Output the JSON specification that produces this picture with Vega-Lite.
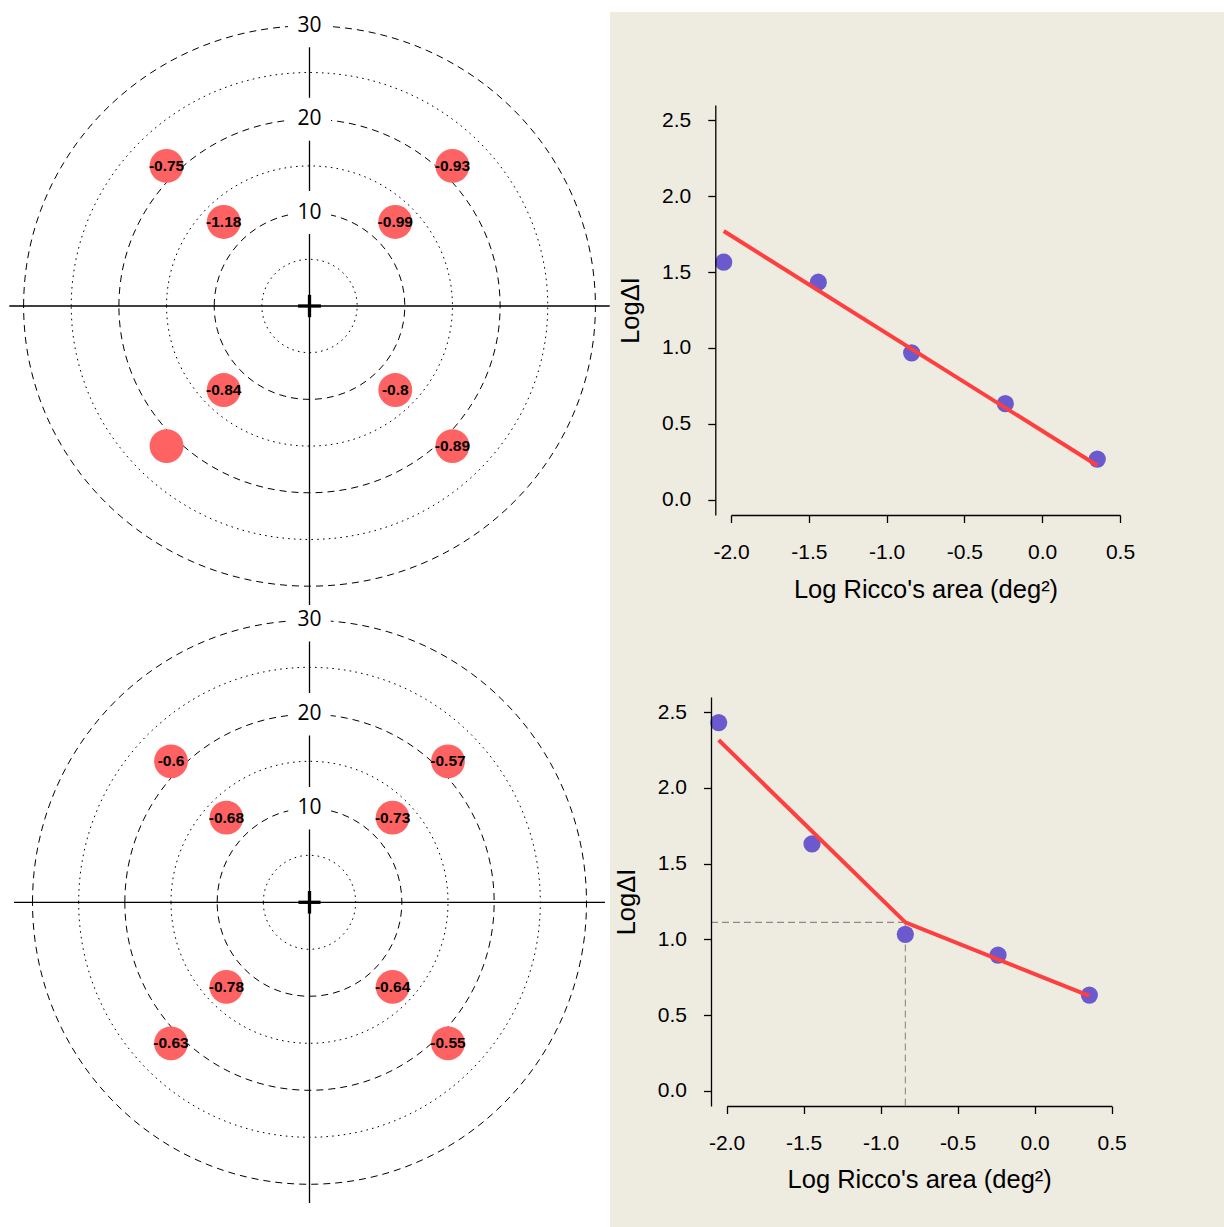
{
  "$schema": "https://vega.github.io/schema/vega-lite/v6.json",
  "width": 1224,
  "height": 1227,
  "autosize": {"type": "none"},
  "padding": 0,
  "background": "white",
  "config": {"view": {"stroke": null}},
  "datasets": {
    "panel": [{"x": 0, "x2": 1, "y": 0, "y2": 1}],
    "rings": [
      {"x": 0, "y": 0, "r": 5, "style": "dotted"},
      {"x": 0, "y": 0, "r": 10, "style": "dashed"},
      {"x": 0, "y": 0, "r": 15, "style": "dotted"},
      {"x": 0, "y": 0, "r": 20, "style": "dashed"},
      {"x": 0, "y": 0, "r": 25, "style": "dotted"},
      {"x": 0, "y": 0, "r": 30, "style": "dashed"}
    ],
    "axesTop": [
      {"x": -31.5, "x2": 31.5, "y": 0, "y2": 0},
      {"x": 0, "x2": 0, "y": -32, "y2": 32}
    ],
    "axesBottom": [
      {"x": -32, "x2": 32, "y": 0, "y2": 0},
      {"x": 0, "x2": 0, "y": -32, "y2": 32}
    ],
    "cross": [
      {"x": -1.2, "x2": 1.2, "y": 0, "y2": 0},
      {"x": 0, "x2": 0, "y": -1.2, "y2": 1.2}
    ],
    "ringLabels": [
      {"x": 0, "y": 10, "label": "10"},
      {"x": 0, "y": 20, "label": "20"},
      {"x": 0, "y": 30, "label": "30"}
    ],
    "spotsTop": [
      {"x": -15, "y": 15, "label": "-0.75"},
      {"x": 15, "y": 15, "label": "-0.93"},
      {"x": -9, "y": 9, "label": "-1.18"},
      {"x": 9, "y": 9, "label": "-0.99"},
      {"x": -9, "y": -9, "label": "-0.84"},
      {"x": 9, "y": -9, "label": "-0.8"},
      {"x": -15, "y": -15, "label": ""},
      {"x": 15, "y": -15, "label": "-0.89"}
    ],
    "spotsBottom": [
      {"x": -15, "y": 15, "label": "-0.6"},
      {"x": 15, "y": 15, "label": "-0.57"},
      {"x": -9, "y": 9, "label": "-0.68"},
      {"x": 9, "y": 9, "label": "-0.73"},
      {"x": -9, "y": -9, "label": "-0.78"},
      {"x": 9, "y": -9, "label": "-0.64"},
      {"x": -15, "y": -15, "label": "-0.63"},
      {"x": 15, "y": -15, "label": "-0.55"}
    ],
    "ptsTop": [
      {"x": -2.047, "y": 1.565},
      {"x": -1.439, "y": 1.433},
      {"x": -0.839, "y": 0.968},
      {"x": -0.237, "y": 0.633},
      {"x": 0.354, "y": 0.268}
    ],
    "fitTop": [
      {"x": -2.047, "y": 1.770},
      {"x": 0.354, "y": 0.226}
    ],
    "ptsBottom": [
      {"x": -2.052, "y": 2.431},
      {"x": -1.446, "y": 1.630},
      {"x": -0.840, "y": 1.033},
      {"x": -0.238, "y": 0.896},
      {"x": 0.355, "y": 0.632}
    ],
    "fitBottom": [
      {"x": -2.052, "y": 2.316},
      {"x": -0.840, "y": 1.112},
      {"x": 0.355, "y": 0.627}
    ],
    "guide": [
      {"x": -2.102, "x2": -0.840, "y": 1.112, "y2": 1.112},
      {"x": -0.840, "x2": -0.840, "y": 1.112, "y2": -0.1}
    ]
  },
  "layer": [
    {
      "data": {"name": "panel"},
      "mark": {"type": "rect", "color": "#EEEBE0"},
      "encoding": {
        "x": {"field": "x", "type": "quantitative", "scale": {"domain": [0, 1], "range": [610, 1224], "nice": false, "zero": false}, "axis": null},
        "x2": {"field": "x2"},
        "y": {"field": "y", "type": "quantitative", "scale": {"domain": [0, 1], "range": [12, 1227], "nice": false, "zero": false}, "axis": null},
        "y2": {"field": "y2"}
      }
    },
    {
      "encoding": {
        "x": {"field": "x", "type": "quantitative", "scale": {"domain": [-30, 30], "range": [32.5, 586.5], "nice": false, "zero": false}, "axis": null},
        "y": {"field": "y", "type": "quantitative", "scale": {"domain": [-30, 30], "range": [1184.3, 620.3], "nice": false, "zero": false}, "axis": null}
      },
      "layer": [
        {
          "data": {"name": "rings"},
          "mark": {"type": "point", "filled": false, "color": "black", "strokeWidth": 1, "opacity": 1,
                   "shape": "M-1,0C-1,-0.5622,-0.5523,-1.018,0,-1.018C0.5523,-1.018,1,-0.5622,1,0C1,0.5622,0.5523,1.018,0,1.018C-0.5523,1.018,-1,0.5622,-1,0Z"},
          "encoding": {
            "size": {"field": "r", "type": "quantitative", "scale": {"type": "pow", "exponent": 2, "domain": [0, 30], "range": [0, 306894]}, "legend": null},
            "strokeDash": {"field": "style", "type": "nominal", "scale": {"domain": ["dashed", "dotted"], "range": [[7, 5], [1.6, 4.2]]}, "legend": null}
          }
        },
        {
          "data": {"name": "axesBottom"},
          "mark": {"type": "rule", "color": "black", "strokeWidth": 1.3},
          "encoding": {"x2": {"field": "x2"}, "y2": {"field": "y2"}}
        },
        {
          "data": {"name": "ringLabels"},
          "mark": {"type": "point", "shape": "square", "filled": true, "color": "white", "size": 1800, "opacity": 1}
        },
        {
          "data": {"name": "ringLabels"},
          "mark": {"type": "text", "font": "Open Sans", "fontSize": 21, "color": "black", "baseline": "middle", "align": "center"},
          "encoding": {"text": {"field": "label"}}
        },
        {
          "data": {"name": "spotsBottom"},
          "mark": {"type": "point", "shape": "circle", "filled": true, "color": "#FF6262", "size": 1140, "opacity": 1}
        },
        {
          "data": {"name": "spotsBottom"},
          "mark": {"type": "text", "font": "Liberation Sans", "fontWeight": "bold", "fontSize": 15.5, "color": "black", "baseline": "middle", "align": "center"},
          "encoding": {"text": {"field": "label"}}
        },
        {
          "data": {"name": "cross"},
          "mark": {"type": "rule", "color": "black", "strokeWidth": 3.3},
          "encoding": {"x2": {"field": "x2"}, "y2": {"field": "y2"}}
        }
      ]
    },
    {
      "encoding": {
        "x": {"field": "x", "type": "quantitative", "scale": {"domain": [-30, 30], "range": [23.6, 595.4], "nice": false, "zero": false}, "axis": null},
        "y": {"field": "y", "type": "quantitative", "scale": {"domain": [-30, 30], "range": [586.2, 25.8], "nice": false, "zero": false}, "axis": null}
      },
      "layer": [
        {
          "data": {"name": "rings"},
          "mark": {"type": "point", "filled": false, "color": "black", "strokeWidth": 1, "opacity": 1,
                   "shape": "M-1,0C-1,-0.5413,-0.5523,-0.98,0,-0.98C0.5523,-0.98,1,-0.5413,1,0C1,0.5413,0.5523,0.98,0,0.98C-0.5523,0.98,-1,0.5413,-1,0Z"},
          "encoding": {
            "size": {"field": "r", "type": "quantitative", "scale": {"type": "pow", "exponent": 2, "domain": [0, 30], "range": [0, 326955]}, "legend": null},
            "strokeDash": {"field": "style", "type": "nominal", "scale": {"domain": ["dashed", "dotted"], "range": [[7, 5], [1.6, 4.2]]}, "legend": null}
          }
        },
        {
          "data": {"name": "axesTop"},
          "mark": {"type": "rule", "color": "black", "strokeWidth": 1.3},
          "encoding": {"x2": {"field": "x2"}, "y2": {"field": "y2"}}
        },
        {
          "data": {"name": "ringLabels"},
          "mark": {"type": "point", "shape": "square", "filled": true, "color": "white", "size": 1850, "opacity": 1}
        },
        {
          "data": {"name": "ringLabels"},
          "mark": {"type": "text", "font": "Open Sans", "fontSize": 21, "color": "black", "baseline": "middle", "align": "center"},
          "encoding": {"text": {"field": "label"}}
        },
        {
          "data": {"name": "spotsTop"},
          "mark": {"type": "point", "shape": "circle", "filled": true, "color": "#FF6262", "size": 1150, "opacity": 1}
        },
        {
          "data": {"name": "spotsTop"},
          "mark": {"type": "text", "font": "Liberation Sans", "fontWeight": "bold", "fontSize": 15.5, "color": "black", "baseline": "middle", "align": "center"},
          "encoding": {"text": {"field": "label"}}
        },
        {
          "data": {"name": "cross"},
          "mark": {"type": "rule", "color": "black", "strokeWidth": 3.3},
          "encoding": {"x2": {"field": "x2"}, "y2": {"field": "y2"}}
        }
      ]
    },
    {
      "encoding": {
        "x": {"field": "x", "type": "quantitative",
              "scale": {"domain": [-2, 0.5], "range": [731, 1120], "nice": false, "zero": false},
              "axis": {"orient": "bottom", "offset": -712, "values": [-2, -1.5, -1, -0.5, 0, 0.5],
                       "labelExpr": "datum.value < 0 ? '-' + format(-datum.value, '.1f') : format(datum.value, '.1f')",
                       "grid": false, "domainColor": "black", "domainWidth": 1.3, "tickColor": "black", "tickWidth": 1.3, "tickSize": 7.5,
                       "labelFont": "Liberation Sans", "labelFontSize": 21, "labelColor": "black", "labelPadding": 19, "labelFlush": false, "labelOverlap": false,
                       "title": "Log Ricco's area (deg²)", "titleFont": "Liberation Sans", "titleFontSize": 25.5, "titleFontWeight": "normal", "titleColor": "black",
                       "titleY": 82, "titleBaseline": "alphabetic", "zindex": 1}},
        "y": {"field": "y", "type": "quantitative",
              "scale": {"domain": [-0.1, 2.6], "range": [515, 105], "nice": false, "zero": false},
              "axis": {"orient": "left", "offset": -715.3, "values": [0, 0.5, 1, 1.5, 2, 2.5], "format": ".1f",
                       "grid": false, "domainColor": "black", "domainWidth": 1.3, "tickColor": "black", "tickWidth": 1.3, "tickSize": 7.5,
                       "labelFont": "Liberation Sans", "labelFontSize": 21, "labelColor": "black", "labelPadding": 17, "labelOverlap": false, "labelFlush": false,
                       "title": "LogΔI", "titleFont": "Liberation Sans", "titleFontSize": 25.5, "titleFontWeight": "normal", "titleColor": "black",
                       "titleX": -77, "titleBaseline": "alphabetic", "zindex": 1}}
      },
      "layer": [
        {
          "data": {"name": "ptsTop"},
          "mark": {"type": "circle", "color": "#6A5ACD", "size": 295, "opacity": 1}
        },
        {
          "data": {"name": "fitTop"},
          "mark": {"type": "line", "color": "#FF3F3F", "strokeWidth": 4}
        }
      ]
    },
    {
      "encoding": {
        "x": {"field": "x", "type": "quantitative",
              "scale": {"domain": [-2, 0.5], "range": [726.7, 1111.7], "nice": false, "zero": false},
              "axis": {"orient": "bottom", "offset": -121, "values": [-2, -1.5, -1, -0.5, 0, 0.5],
                       "labelExpr": "datum.value < 0 ? '-' + format(-datum.value, '.1f') : format(datum.value, '.1f')",
                       "grid": false, "domainColor": "black", "domainWidth": 1.3, "tickColor": "black", "tickWidth": 1.3, "tickSize": 7.5,
                       "labelFont": "Liberation Sans", "labelFontSize": 21, "labelColor": "black", "labelPadding": 19, "labelFlush": false, "labelOverlap": false,
                       "title": "Log Ricco's area (deg²)", "titleFont": "Liberation Sans", "titleFontSize": 25.5, "titleFontWeight": "normal", "titleColor": "black",
                       "titleY": 81, "titleBaseline": "alphabetic", "zindex": 1}},
        "y": {"field": "y", "type": "quantitative",
              "scale": {"domain": [-0.1, 2.6], "range": [1106, 697], "nice": false, "zero": false},
              "axis": {"orient": "left", "offset": -711, "values": [0, 0.5, 1, 1.5, 2, 2.5], "format": ".1f",
                       "grid": false, "domainColor": "black", "domainWidth": 1.3, "tickColor": "black", "tickWidth": 1.3, "tickSize": 7.5,
                       "labelFont": "Liberation Sans", "labelFontSize": 21, "labelColor": "black", "labelPadding": 17, "labelOverlap": false, "labelFlush": false,
                       "title": "LogΔI", "titleFont": "Liberation Sans", "titleFontSize": 25.5, "titleFontWeight": "normal", "titleColor": "black",
                       "titleX": -77, "titleBaseline": "alphabetic", "zindex": 1}}
      },
      "layer": [
        {
          "data": {"name": "guide"},
          "mark": {"type": "rule", "color": "#8A8A8A", "strokeWidth": 1.1, "strokeDash": [7, 4]},
          "encoding": {"x2": {"field": "x2"}, "y2": {"field": "y2"}}
        },
        {
          "data": {"name": "ptsBottom"},
          "mark": {"type": "circle", "color": "#6A5ACD", "size": 295, "opacity": 1}
        },
        {
          "data": {"name": "fitBottom"},
          "mark": {"type": "line", "color": "#FF3F3F", "strokeWidth": 4}
        }
      ]
    }
  ],
  "resolve": {
    "scale": {"x": "independent", "y": "independent", "size": "independent", "strokeDash": "independent"},
    "axis": {"x": "independent", "y": "independent"}
  }
}
